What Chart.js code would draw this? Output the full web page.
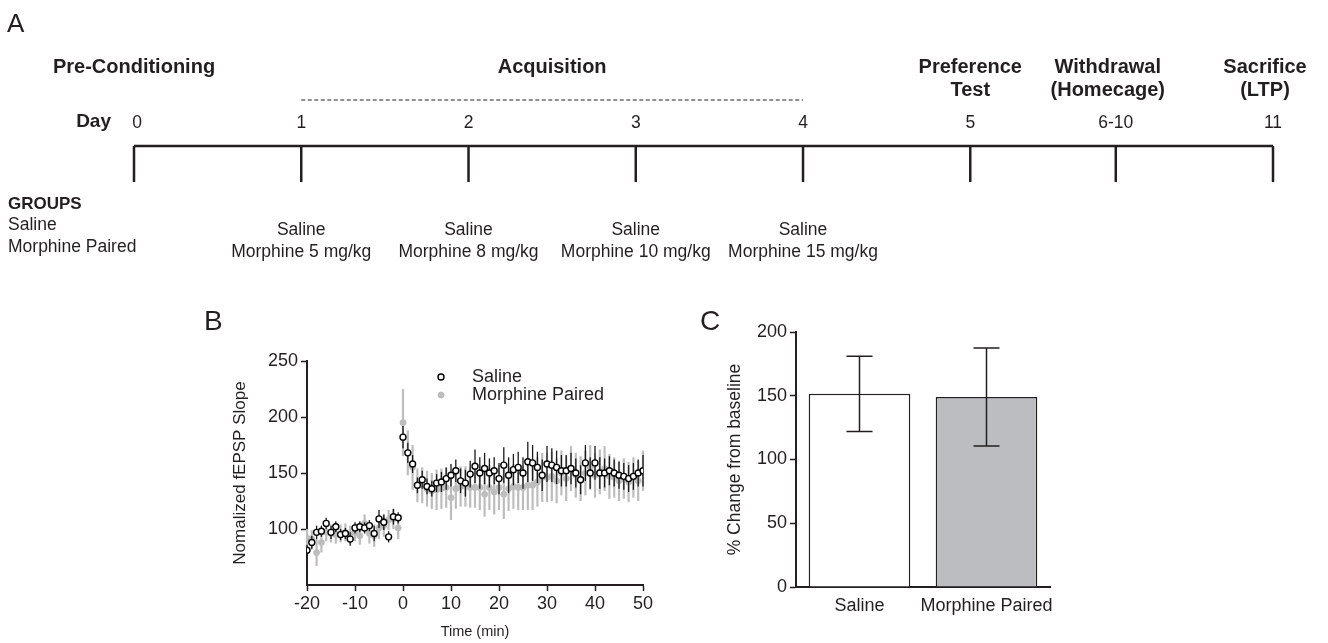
<!DOCTYPE html>
<html>
<head>
<meta charset="utf-8">
<script src="https://cdn.jsdelivr.net/npm/chart.js@4.4.1/dist/chart.umd.min.js"></script>
<style>
    html, body { margin: 0; padding: 0; background: #fff; width: 1328px; height: 643px; overflow: hidden; }
    canvas { position: absolute; }
    #panelA { left: 0; top: 0; }
    #panelB { left: 190px; top: 300px; }
    #panelC { left: 690px; top: 300px; }
</style>
</head>
<body>
<canvas id="panelA" width="1328" height="290"></canvas>
<canvas id="panelB" width="470" height="343"></canvas>
<canvas id="panelC" width="390" height="343"></canvas>
<script>
// ---- panel A: protocol timeline ----
const dayLabels = ["0", "1", "2", "3", "4", "5", "6-10", "11"];
const stageX = [0, 1, 2, 3, 4, 5, 5.87, 6.81];
const phaseLabels = [["Pre-Conditioning"], ["Acquisition"], ["Preference", "Test"], ["Withdrawal", "(Homecage)"], ["Sacrifice", "(LTP)"]];
const phaseFrom = [0, 1, 5, 6, 7];
const phaseTo = [0, 4, 5, 6, 7];
const groupNames = ["Saline", "Morphine Paired"];
const conditioningDays = [1, 2, 3, 4];
const morphineDoses = [5, 8, 10, 15];

// ---- panel B: fEPSP slope over time ----
const timeB = [-20, -19, -18, -17, -16, -15, -14, -13, -12, -11, -10, -9, -8, -7, -6, -5, -4, -3, -2, -1,
    0, 1, 2, 3, 4, 5, 6, 7, 8, 9, 10, 11, 12, 13, 14, 15, 16, 17, 18, 19, 20, 21, 22, 23, 24, 25,
    26, 27, 28, 29, 30, 31, 32, 33, 34, 35, 36, 37, 38, 39, 40, 41, 42, 43, 44, 45, 46, 47, 48, 49, 50];
const salineB = [81, 88, 97, 98, 105, 97, 102, 95, 96, 91, 101, 102, 101, 103, 96, 109, 106, 93, 111, 110,
    182, 168, 158, 139, 144, 138, 136, 141, 142, 145, 148, 152, 143, 141, 149, 156, 150, 154, 150, 152,
    145, 157, 148, 153, 155, 150, 160, 159, 155, 148, 158, 157, 155, 152, 152, 154, 150, 144, 159, 150,
    159, 150, 150, 152, 150, 148, 147, 145, 147, 150, 152];
const salineErrB = [5, 6, 6, 5, 5, 6, 5, 5, 5, 6, 5, 5, 5, 5, 7, 8, 7, 5, 7, 5,
    10, 9, 8, 7, 8, 7, 7, 8, 9, 10, 10, 10, 11, 12, 12, 15, 14, 14, 13, 12,
    14, 16, 16, 14, 14, 14, 18, 16, 14, 14, 16, 15, 15, 14, 14, 14, 13, 13, 16, 14,
    15, 14, 13, 13, 12, 12, 12, 12, 12, 12, 14];
const morphineB = [92, 91, 79, 88, 97, 96, 95, 96, 97, 95, 97, 94, 105, 96, 94, 101, 103, 108, 109, 101,
    195, 168, 155, 139, 139, 136, 134, 135, 136, 137, 128, 136, 138, 138, 137, 137, 137, 131, 137, 133,
    137, 131, 136, 138, 137, 137, 139, 139, 142, 146, 146, 147, 143, 150, 145, 154, 148, 145, 150, 155,
    148, 151, 154, 147, 146, 143, 145, 142, 146, 143, 152];
const morphineErrB = [8, 8, 12, 9, 8, 8, 8, 8, 8, 8, 8, 8, 8, 9, 10, 10, 10, 9, 9, 10,
    30, 20, 20, 15, 16, 16, 16, 18, 18, 18, 20, 18, 18, 18, 18, 18, 20, 20, 20, 20,
    20, 22, 20, 20, 20, 20, 22, 22, 22, 22, 22, 22, 20, 20, 20, 20, 20, 20, 20, 20,
    20, 20, 20, 20, 18, 18, 18, 18, 18, 18, 18];
const xTicksB = [-20, -10, 0, 10, 20, 30, 40, 50];
const yTicksB = [100, 150, 200, 250];

// ---- panel C: % change from baseline ----
const groupsC = ["Saline", "Morphine Paired"];
const meanC = [151.5, 149];
const semC = [29.5, 38.5];
const yTicksC = [0, 50, 100, 150, 200];

const FONT = '"Liberation Sans", Arial, Helvetica, sans-serif';
const INK = "#231f20";
const GREY = "#bdbdbd";

// error bars, drawn just before (or after) the owning dataset
const errorBars = {
    id: "errorBars",
    beforeDatasetDraw(chart, args) {
        const ds = chart.data.datasets[args.index];
        if (ds.errors && !ds.errorsOnTop) drawErrors(chart, args.meta, ds);
    },
    afterDatasetDraw(chart, args) {
        const ds = chart.data.datasets[args.index];
        if (ds.errors && ds.errorsOnTop) drawErrors(chart, args.meta, ds);
    },
};

function drawErrors(chart, meta, ds) {
    const ctx = chart.ctx;
    const yScale = chart.scales[meta.yAxisID];
    ctx.save();
    ctx.strokeStyle = ds.errorColor;
    ctx.lineWidth = ds.errorWidth;
    meta.data.forEach((el, i) => {
        const raw = ds.data[i];
        const v = typeof raw === "object" ? raw.y : raw;
        const e = ds.errors[i];
        const top = yScale.getPixelForValue(v + e);
        const bot = yScale.getPixelForValue(v - e);
        ctx.beginPath();
        ctx.moveTo(el.x, top);
        ctx.lineTo(el.x, bot);
        if (ds.capWidth) {
            ctx.moveTo(el.x - ds.capWidth / 2, top);
            ctx.lineTo(el.x + ds.capWidth / 2, top);
            ctx.moveTo(el.x - ds.capWidth / 2, bot);
            ctx.lineTo(el.x + ds.capWidth / 2, bot);
        }
        ctx.stroke();
    });
    ctx.restore();
}

const panelLetter = {
    id: "panelLetter",
    afterDraw(chart, args, opts) {
        const ctx = chart.ctx;
        ctx.save();
        ctx.fillStyle = INK;
        ctx.font = `${opts.size}px ${FONT}`;
        ctx.textAlign = "left";
        ctx.textBaseline = "middle";
        ctx.fillText(opts.letter, opts.x, opts.y);
        ctx.restore();
    },
};

// legend inside the plot of panel B
const inlineLegend = {
    id: "inlineLegend",
    afterDraw(chart) {
        const { ctx, chartArea } = chart;
        ctx.save();
        ctx.font = `18px ${FONT}`;
        ctx.textBaseline = "middle";
        ctx.textAlign = "left";
        chart.data.datasets.forEach((ds, i) => {
            const y = chartArea.top + 16 + i * 18;
            const mx = chartArea.left + 134;
            ctx.beginPath();
            ctx.arc(mx, y, ds.pointRadius, 0, Math.PI * 2);
            ctx.fillStyle = ds.backgroundColor;
            ctx.fill();
            ctx.lineWidth = ds.borderWidth;
            ctx.strokeStyle = ds.borderColor;
            ctx.stroke();
            ctx.fillStyle = INK;
            ctx.fillText(ds.label, chartArea.left + 165, y);
        });
        ctx.restore();
    },
};

// texts of the timeline
const timelineText = {
    id: "timelineText",
    afterDraw(chart) {
        const { ctx, chartArea } = chart;
        const x = chart.scales.x;
        const top = chartArea.top;
        const px = (i) => x.getPixelForValue(stageX[i]);
        ctx.save();
        ctx.fillStyle = INK;
        ctx.textBaseline = "middle";

        ctx.font = `26px ${FONT}`;
        ctx.textAlign = "left";
        ctx.fillText("A", 7, 25);

        ctx.font = `bold 20px ${FONT}`;
        ctx.textAlign = "center";
        phaseLabels.forEach((lines, i) => {
            const cx = (px(phaseFrom[i]) + px(phaseTo[i])) / 2 - (i >= 3 ? 8 : 0);
            lines.forEach((t, j) => ctx.fillText(t, cx, top - 79 + j * 23));
        });

        ctx.strokeStyle = INK;
        ctx.lineWidth = 1;
        ctx.setLineDash([4, 2.5]);
        ctx.beginPath();
        ctx.moveTo(px(1), top - 46);
        ctx.lineTo(px(4), top - 46);
        ctx.stroke();
        ctx.setLineDash([]);

        ctx.font = `bold 19px ${FONT}`;
        ctx.textAlign = "right";
        ctx.fillText("Day", px(0) - 23, top - 24);
        ctx.font = `17.5px ${FONT}`;
        ctx.textAlign = "center";
        dayLabels.forEach((d, i) => ctx.fillText(d, px(i) + (i === 0 ? 3 : 0), top - 23));

        ctx.textAlign = "left";
        ctx.font = `bold 17px ${FONT}`;
        ctx.fillText("GROUPS", 8, top + 58);
        ctx.font = `17.5px ${FONT}`;
        groupNames.forEach((g, j) => ctx.fillText(g, 8, top + 79 + j * 22));

        ctx.textAlign = "center";
        conditioningDays.forEach((d, i) => {
            ctx.fillText(groupNames[0], px(d), top + 84);
            ctx.fillText(`Morphine ${morphineDoses[i]} mg/kg`, px(d), top + 106);
        });
        ctx.restore();
    },
};

const hiddenAxis = { display: false };

new Chart(document.getElementById("panelA"), {
    type: "line",
    data: {
        datasets: [
            {
                data: stageX.map((s) => ({ x: s, y: 0 })),
                borderColor: INK,
                borderWidth: 2.5,
                pointRadius: 0,
                clip: false,
            },
            ...stageX.map((s) => ({
                data: [{ x: s, y: 0 }, { x: s, y: -1 }],
                borderColor: INK,
                borderWidth: 2.5,
                pointRadius: 0,
                clip: false,
            })),
        ],
    },
    options: {
        responsive: false,
        animation: false,
        events: [],
        layout: { padding: { left: 134, right: 55, top: 146, bottom: 108 } },
        plugins: { legend: { display: false }, tooltip: { enabled: false } },
        scales: {
            x: { type: "linear", min: stageX[0], max: stageX[stageX.length - 1], ...hiddenAxis },
            y: { type: "linear", min: -1, max: 0, ...hiddenAxis },
        },
    },
    plugins: [timelineText],
});

const axisGrid = { display: true, drawOnChartArea: false, drawTicks: true, tickLength: 6, tickColor: INK, tickWidth: 1.5 };
const axisBorder = { display: true, color: INK, width: 2 };

new Chart(document.getElementById("panelB"), {
    type: "scatter",
    data: {
        datasets: [
            {
                label: "Saline",
                data: timeB.map((t, i) => ({ x: t, y: salineB[i] })),
                errors: salineErrB,
                errorColor: "#1a1a1a",
                errorWidth: 1.3,
                pointRadius: 3,
                borderWidth: 1.4,
                borderColor: "#000000",
                backgroundColor: "#ffffff",
            },
            {
                label: "Morphine Paired",
                data: timeB.map((t, i) => ({ x: t, y: morphineB[i] })),
                errors: morphineErrB,
                errorColor: GREY,
                errorWidth: 2.2,
                pointRadius: 3,
                borderWidth: 1,
                borderColor: GREY,
                backgroundColor: GREY,
            },
        ],
    },
    options: {
        responsive: false,
        animation: false,
        events: [],
        layout: { padding: { left: 40, right: 17, top: 61, bottom: 0 } },
        plugins: {
            legend: { display: false },
            tooltip: { enabled: false },
            panelLetter: { letter: "B", x: 14, y: 22, size: 28 },
        },
        scales: {
            x: {
                type: "linear",
                min: -20,
                max: 50,
                afterBuildTicks: (s) => { s.ticks = xTicksB.map((v) => ({ value: v })); },
                afterFit: (s) => { s.height = 58; },
                grid: axisGrid,
                border: axisBorder,
                ticks: { color: INK, font: { family: FONT, size: 18 }, padding: 2, maxRotation: 0 },
                title: { display: true, text: "Time (min)", color: INK, font: { family: FONT, size: 14.5 }, padding: { top: 0, bottom: 2 } },
            },
            y: {
                min: 50,
                max: 250,
                afterBuildTicks: (s) => { s.ticks = yTicksB.map((v) => ({ value: v })); },
                afterFit: (s) => { s.width = 77; },
                grid: axisGrid,
                border: axisBorder,
                ticks: { color: INK, font: { family: FONT, size: 18 }, padding: 3 },
                title: { display: true, text: "Nomalized fEPSP Slope", color: INK, font: { family: FONT, size: 17 }, padding: { top: 0, bottom: 0 } },
            },
        },
    },
    plugins: [errorBars, panelLetter, inlineLegend],
});

new Chart(document.getElementById("panelC"), {
    type: "bar",
    data: {
        labels: groupsC,
        datasets: [
            {
                data: meanC,
                errors: semC,
                errorsOnTop: true,
                errorColor: INK,
                errorWidth: 1.5,
                capWidth: 26,
                backgroundColor: ["#ffffff", "#bcbdc0"],
                borderColor: INK,
                borderWidth: 1.5,
                barPercentage: 0.8,
                categoryPercentage: 1,
            },
        ],
    },
    options: {
        responsive: false,
        animation: false,
        events: [],
        layout: { padding: { left: 35, right: 30, top: 32, bottom: 0 } },
        plugins: {
            legend: { display: false },
            tooltip: { enabled: false },
            panelLetter: { letter: "C", x: 10, y: 22, size: 28 },
        },
        scales: {
            x: {
                afterFit: (s) => { s.height = 56; },
                grid: { display: true, drawOnChartArea: false, drawTicks: false },
                border: axisBorder,
                ticks: { color: INK, font: { family: FONT, size: 18 }, padding: 8, autoSkip: false, maxRotation: 0, minRotation: 0 },
            },
            y: {
                min: 0,
                max: 200,
                afterBuildTicks: (s) => { s.ticks = yTicksC.map((v) => ({ value: v })); },
                afterFit: (s) => { s.width = 71; },
                grid: axisGrid,
                border: axisBorder,
                ticks: { color: INK, font: { family: FONT, size: 18 }, padding: 3 },
                title: { display: true, text: "% Change from baseline", color: INK, font: { family: FONT, size: 17.5 }, padding: { top: 0, bottom: 0 } },
            },
        },
    },
    plugins: [errorBars, panelLetter],
});
</script>
</body>
</html>
